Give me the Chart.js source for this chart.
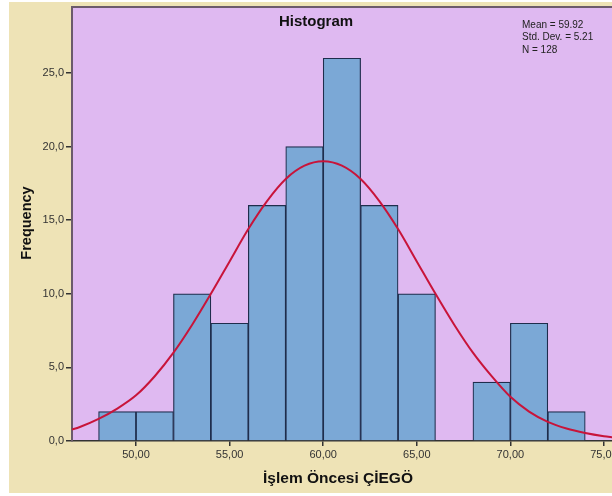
<!DOCTYPE html>
<html>
<head>
<meta charset="utf-8">
<script src="https://cdn.jsdelivr.net/npm/chart.js@4/dist/chart.umd.min.js"></script>
<style>
  html, body { margin: 0; padding: 0; background: #ffffff; }
  #wrap { width: 612px; height: 496px; }
</style>
</head>
<body>
<div id="wrap"><canvas id="c" width="612" height="496"></canvas></div>
<script>
// ---- data ----
const binStarts   = [48, 50, 52, 54, 56, 58, 60, 62, 64, 66, 68, 70, 72];
const binWidth    = 2;
const frequencies = [2, 2, 10, 8, 16, 20, 26, 16, 10, 0, 4, 8, 2];

const curveX = [46.5, 47, 48, 49, 50, 51, 52, 53, 54, 55, 56, 57, 58, 59, 60, 61, 62, 63, 64, 65, 66, 67, 68, 69, 70, 71, 72, 73, 74, 75, 75.5];
const curveY = [0.75, 0.95, 1.5, 2.2, 3.1, 4.4, 6.0, 7.9, 10.0, 12.2, 14.4, 16.3, 17.8, 18.7, 19.0, 18.7, 17.8, 16.3, 14.4, 12.2, 10.0, 7.9, 6.0, 4.4, 3.0, 2.0, 1.3, 0.85, 0.55, 0.33, 0.25];

const yTickValues = [0, 5, 10, 15, 20, 25];
const xTickValues = [50, 55, 60, 65, 70, 75];

const chartTitle = 'Histogram';
const xAxisTitle = 'İşlem Öncesi ÇİEGÖ';
const yAxisTitle = 'Frequency';
const statsLines = ['Mean = 59.92', 'Std. Dev. = 5.21', 'N = 128'];

// ---- build datasets ----
const barData = binStarts.map((s, i) => ({ x: s + binWidth / 2, y: frequencies[i] }));
const curveData = curveX.map((x, i) => ({ x: x, y: curveY[i] }));

const FONT = '"Liberation Sans", Arial, Helvetica, sans-serif';

const decorPlugin = {
  id: 'decor',
  beforeDraw(chart) {
    const ctx = chart.ctx;
    const a = chart.chartArea;
    ctx.save();
    ctx.fillStyle = '#ffffff';
    ctx.fillRect(0, 0, chart.width, chart.height);
    ctx.fillStyle = '#EEE3B6';
    ctx.fillRect(9, 2, chart.width - 9, 491);
    ctx.fillStyle = '#DFB9F1';
    ctx.fillRect(a.left, a.top, a.right - a.left, a.bottom - a.top);
    ctx.restore();
  },
  afterDraw(chart) {
    const ctx = chart.ctx;
    const a = chart.chartArea;
    ctx.save();
    ctx.strokeStyle = '#6B5A6B';
    ctx.lineWidth = 2;
    ctx.beginPath();
    ctx.moveTo(a.left - 1, a.top);
    ctx.lineTo(a.right, a.top);
    ctx.stroke();

    ctx.fillStyle = '#111111';
    ctx.textAlign = 'center';
    ctx.textBaseline = 'middle';
    ctx.font = 'bold 15px ' + FONT;
    ctx.fillText(chartTitle, 316, 22);

    ctx.font = 'bold 15.5px ' + FONT;
    ctx.fillText(xAxisTitle, 338, 479);

    ctx.save();
    ctx.translate(27, 223);
    ctx.rotate(-Math.PI / 2);
    ctx.font = 'bold 14.5px ' + FONT;
    ctx.fillText(yAxisTitle, 0, 0);
    ctx.restore();

    ctx.textAlign = 'left';
    ctx.font = '10px ' + FONT;
    ctx.fillStyle = '#222222';
    const ys = [25, 37.5, 50];
    statsLines.forEach((t, i) => ctx.fillText(t, 522, ys[i]));
    ctx.restore();
  }
};

new Chart(document.getElementById('c'), {
  type: 'bar',
  data: {
    datasets: [
      {
        type: 'line',
        data: curveData,
        borderColor: '#C8143A',
        borderWidth: 2,
        pointRadius: 0,
        fill: false,
        tension: 0.4,
        cubicInterpolationMode: 'monotone',
        order: 0
      },
      {
        type: 'bar',
        data: barData,
        backgroundColor: '#7BA8D6',
        borderColor: '#1F2D4C',
        borderWidth: 1.2,
        borderSkipped: 'bottom',
        barPercentage: 1,
        categoryPercentage: 1,
        order: 1
      }
    ]
  },
  options: {
    responsive: false,
    animation: false,
    layout: { padding: { top: 7, left: 0, right: 0, bottom: 0 } },
    plugins: {
      legend: { display: false },
      tooltip: { enabled: false },
      title: { display: false }
    },
    scales: {
      x: {
        type: 'linear',
        offset: false,
        min: 46.58,
        max: 75.43,
        afterBuildTicks(scale) { scale.ticks = xTickValues.map(v => ({ value: v })); },
        afterFit(scale) {
          scale.height = 55;
          scale.paddingLeft = 0; scale.paddingRight = 0;
          scale.paddingTop = 0; scale.paddingBottom = 0;
        },
        grid: { offset: false, drawOnChartArea: false, drawTicks: true, tickLength: 5, color: '#333333', lineWidth: 1.5 },
        border: { display: true, color: '#333333', width: 1.5 },
        ticks: {
          autoSkip: false,
          maxRotation: 0,
          padding: 2,
          color: '#333333',
          font: { family: FONT, size: 11 },
          callback: v => v.toFixed(2).replace('.', ',')
        }
      },
      y: {
        type: 'linear',
        min: 0,
        max: 29.48,
        afterBuildTicks(scale) { scale.ticks = yTickValues.map(v => ({ value: v })); },
        afterFit(scale) {
          scale.width = 72;
          scale.paddingLeft = 0; scale.paddingRight = 0;
          scale.paddingTop = 0; scale.paddingBottom = 0;
        },
        grid: { drawOnChartArea: false, drawTicks: true, tickLength: 6, color: '#333333', lineWidth: 1.5 },
        border: { display: true, color: '#6B5A6B', width: 2 },
        ticks: {
          padding: 2,
          color: '#333333',
          font: { family: FONT, size: 11 },
          callback: v => v.toFixed(1).replace('.', ',')
        }
      }
    }
  },
  plugins: [decorPlugin]
});
</script>
</body>
</html>
